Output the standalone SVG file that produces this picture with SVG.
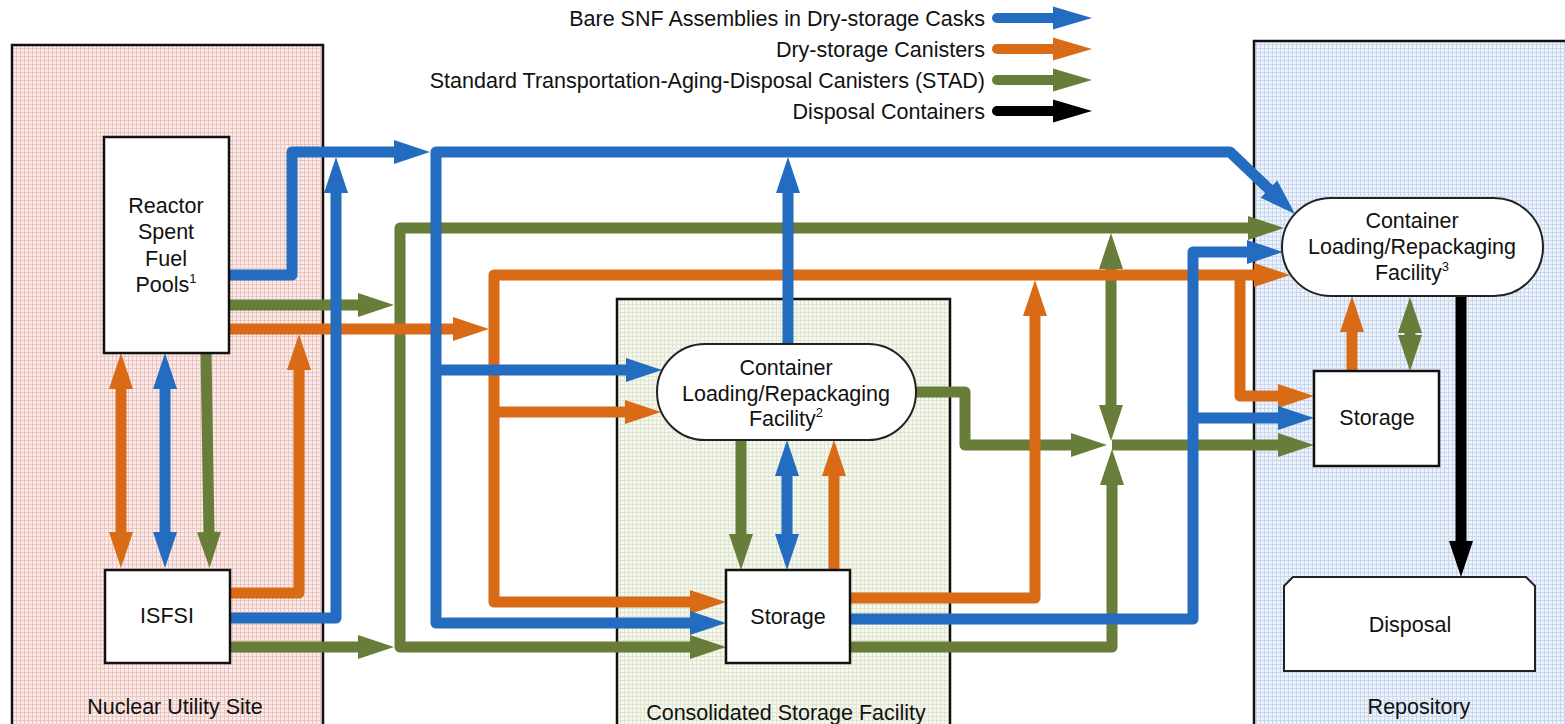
<svg xmlns="http://www.w3.org/2000/svg" width="1565" height="724" viewBox="0 0 1565 724">
<defs>
<pattern id="pPink" width="4" height="4" patternUnits="userSpaceOnUse"><rect width="4" height="4" fill="#FAEAE8"/><rect width="4" height="1" fill="#ECC4C0"/><rect width="1" height="4" fill="#ECC4C0"/></pattern>
<pattern id="pGreen" width="4" height="4" patternUnits="userSpaceOnUse"><rect width="4" height="4" fill="#F6F8EF"/><rect width="4" height="1" fill="#DFE6CF"/><rect width="1" height="4" fill="#DFE6CF"/></pattern>
<pattern id="pBlue" width="4" height="4" patternUnits="userSpaceOnUse"><rect width="4" height="4" fill="#EEF3FB"/><rect width="4" height="1" fill="#C8D8EF"/><rect width="1" height="4" fill="#C8D8EF"/></pattern>
<marker id="mB" markerUnits="userSpaceOnUse" markerWidth="40" markerHeight="30" viewBox="-2 -15 40 30" refX="0" refY="0" orient="auto-start-reverse" overflow="visible"><path d="M-1,-12 L35,0 L-1,12 Z" fill="#236CC0"/></marker>
<marker id="mO" markerUnits="userSpaceOnUse" markerWidth="40" markerHeight="30" viewBox="-2 -15 40 30" refX="0" refY="0" orient="auto-start-reverse" overflow="visible"><path d="M-1,-12 L35,0 L-1,12 Z" fill="#D96B17"/></marker>
<marker id="mG" markerUnits="userSpaceOnUse" markerWidth="40" markerHeight="30" viewBox="-2 -15 40 30" refX="0" refY="0" orient="auto-start-reverse" overflow="visible"><path d="M-1,-12 L35,0 L-1,12 Z" fill="#687D3A"/></marker>
<marker id="mK" markerUnits="userSpaceOnUse" markerWidth="40" markerHeight="30" viewBox="-2 -15 40 30" refX="0" refY="0" orient="auto-start-reverse" overflow="visible"><path d="M-1,-12 L35,0 L-1,12 Z" fill="#000"/></marker>
</defs>
<style>
.t{font-family:"Liberation Sans",Arial,sans-serif;font-size:21.5px;fill:#111;text-anchor:middle}
.lt{font-family:"Liberation Sans",Arial,sans-serif;font-size:21.5px;fill:#111;text-anchor:end}
.sup{font-size:13px}
.c{fill:none;stroke-width:11;stroke-linejoin:round}
.b{stroke:#236CC0}
.o{stroke:#D96B17}
.g{stroke:#687D3A}
.k{stroke:#000}
.region{stroke:#111;stroke-width:2.5}
.node{fill:#fff;stroke:#111;stroke-width:2.5}
.stad{fill:#fff;stroke:#222;stroke-width:2}
.la{stroke-width:10;stroke-linecap:round;fill:none}
</style>
<rect width="1565" height="724" fill="#fff"/>

<g id="region-nuclear-utility-site">
<rect class="region" x="12" y="45" width="311" height="700" fill="url(#pPink)"/>
<text class="t" x="175" y="714">Nuclear Utility Site</text>
</g>
<g id="region-consolidated-storage-facility">
<rect class="region" x="617" y="299" width="333" height="450" fill="url(#pGreen)"/>
<text class="t" x="786" y="720">Consolidated Storage Facility</text>
</g>
<g id="region-repository">
<rect class="region" x="1254" y="41" width="330" height="700" fill="url(#pBlue)"/>
<text class="t" x="1419" y="714">Repository</text>
</g>

<g id="legend">
<text class="lt" x="985" y="25.5">Bare SNF Assemblies in Dry-storage Casks</text>
<text class="lt" x="985" y="56.5">Dry-storage Canisters</text>
<text class="lt" x="985" y="87.5">Standard Transportation-Aging-Disposal Canisters (STAD)</text>
<text class="lt" x="985" y="118.5">Disposal Containers</text>
<path class="la b" d="M997,18 H1055"/><path d="M1053,6.5 L1092,18 L1053,29.5 Z" fill="#236CC0"/>
<path class="la o" d="M997,49 H1055"/><path d="M1053,37.5 L1092,49 L1053,60.5 Z" fill="#D96B17"/>
<path class="la g" d="M997,80 H1055"/><path d="M1053,68.5 L1092,80 L1053,91.5 Z" fill="#687D3A"/>
<path class="la k" d="M997,111 H1055"/><path d="M1053,99.5 L1092,111 L1053,122.5 Z" fill="#000"/>
</g>

<g id="connectors">
<!-- green -->
<path class="c g" d="M229,305 H359" marker-end="url(#mG)"/>
<path class="c g" d="M230,647 H359" marker-end="url(#mG)"/>
<path class="c g" d="M1249,228 H400 V647 H691" marker-start="url(#mG)" marker-end="url(#mG)"/>
<path class="c g" d="M206,353 L209,533" marker-end="url(#mG)"/>
<path class="c g" d="M741,440 V535" marker-end="url(#mG)"/>
<path class="c g" d="M916,392 H965 V445 H1072" marker-end="url(#mG)"/>
<path class="c g" d="M1112,445 H1279" marker-end="url(#mG)"/>
<path class="c g" d="M1111,268 V406" marker-start="url(#mG)" marker-end="url(#mG)"/>
<path class="c g" d="M850,647 H1112 V484" marker-end="url(#mG)"/>
<path class="c g" d="M1410,332 V336" marker-start="url(#mG)" marker-end="url(#mG)"/>
<!-- orange -->
<path class="c o" d="M229,329 H454" marker-end="url(#mO)"/>
<path class="c o" d="M1255,275 H494 V602 H691" marker-start="url(#mO)" marker-end="url(#mO)"/>
<path class="c o" d="M494,412 H626" marker-end="url(#mO)"/>
<path class="c o" d="M230,593 H299 V369" marker-end="url(#mO)"/>
<path class="c o" d="M834,570 V475" marker-end="url(#mO)"/>
<path class="c o" d="M850,598 H1035 V315" marker-end="url(#mO)"/>
<path class="c o" d="M1240,275 V396 H1279" marker-end="url(#mO)"/>
<path class="c o" d="M1352,371 V331" marker-end="url(#mO)"/>
<path class="c o" d="M121,388 V533" marker-start="url(#mO)" marker-end="url(#mO)"/>
<!-- blue -->
<path class="c b" d="M229,275 H292 V152 H395" marker-end="url(#mB)"/>
<path class="c b" d="M230,618 H336 V192" marker-end="url(#mB)"/>
<path class="c b" d="M691,623 H436 V152 H1230 L1269.7,189.8" marker-start="url(#mB)" marker-end="url(#mB)"/>
<path class="c b" d="M436,370 H627" marker-end="url(#mB)"/>
<path class="c b" d="M788,344 V192" marker-end="url(#mB)"/>
<path class="c b" d="M850,619 H1193 V252 H1248" marker-end="url(#mB)"/>
<path class="c b" d="M1193,418 H1279" marker-end="url(#mB)"/>
<path class="c b" d="M165,388 V533" marker-start="url(#mB)" marker-end="url(#mB)"/>
<path class="c b" d="M787,475 V535" marker-start="url(#mB)" marker-end="url(#mB)"/>
<!-- black -->
<path class="c k" d="M1461,296 V542" marker-end="url(#mK)"/>
</g>

<g id="node-reactor-pools">
<rect class="node" x="104" y="137" width="125" height="216"/>
<text class="t" x="166" y="213">Reactor</text>
<text class="t" x="166" y="239">Spent</text>
<text class="t" x="166" y="266">Fuel</text>
<text class="t" x="166" y="292">Pools<tspan class="sup" dy="-9">1</tspan></text>
</g>
<g id="node-isfsi">
<rect class="node" x="105" y="570" width="125" height="93"/>
<text class="t" x="167" y="623">ISFSI</text>
</g>
<g id="node-csf-loading">
<rect class="stad" x="657" y="344" width="259" height="96" rx="48" ry="48"/>
<text class="t" x="786" y="375">Container</text>
<text class="t" x="786" y="401">Loading/Repackaging</text>
<text class="t" x="786" y="426">Facility<tspan class="sup" dy="-9">2</tspan></text>
</g>
<g id="node-csf-storage">
<rect class="node" x="726" y="570" width="124" height="93"/>
<text class="t" x="788" y="624">Storage</text>
</g>
<g id="node-repo-loading">
<rect class="stad" x="1282" y="198" width="261" height="98" rx="49" ry="49"/>
<text class="t" x="1412" y="228">Container</text>
<text class="t" x="1412" y="254">Loading/Repackaging</text>
<text class="t" x="1412" y="280">Facility<tspan class="sup" dy="-9">3</tspan></text>
</g>
<g id="node-repo-storage">
<rect class="node" x="1314" y="371" width="125" height="95"/>
<text class="t" x="1377" y="425">Storage</text>
</g>
<g id="node-disposal">
<path class="stad" d="M1284,586 L1293,577 H1526 L1535,586 V671 H1284 Z"/>
<text class="t" x="1410" y="632">Disposal</text>
</g>
</svg>
